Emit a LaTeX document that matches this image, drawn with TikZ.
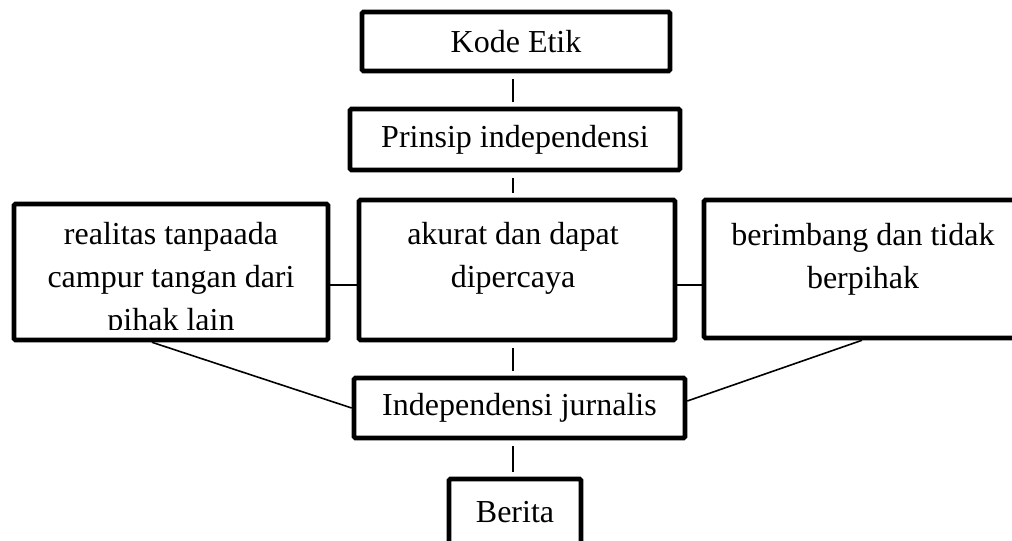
\documentclass[tikz,border=0pt]{standalone}
\usepackage{fontspec}
\setmainfont{Liberation Serif}
\usetikzlibrary{calc}
\begin{document}
\begin{tikzpicture}[x=0.75pt,y=-0.75pt,
  box/.style={draw, line width=3.4pt, rounded corners=1pt, inner sep=0pt},
  txt/.style={font=\fontsize{24}{32.25}\selectfont, inner sep=0pt, align=center},
  conn/.style={line width=1.2pt},
  gap/.style={conn, shorten <=4.5pt, shorten >=3.75pt}]
\useasboundingbox (0,0) rectangle (1012,540);
\coordinate (axis) at (513,0);
\coordinate (hline) at (0,285);

% boxes
\node[box, txt, minimum width=231pt, minimum height=44.25pt] (kode) at (516,41.5) {Kode Etik};
\node[box, txt, minimum width=247.5pt, minimum height=45.75pt] (prinsip) at (515,139.5) {Prinsip independensi};
\node[box, minimum width=235.5pt, minimum height=102pt] (left) at (171,272) {};
\node[box, minimum width=237pt, minimum height=105pt] (middle) at (517,270) {};
\node[box, minimum width=237pt, minimum height=103.5pt] (right) at (862,269) {};
\node[box, txt, minimum width=248.25pt, minimum height=45pt] (indep) at (519.5,408) {Independensi jurnalis};
\node[box, txt, minimum width=99pt, minimum height=49.5pt] (berita) at (515,512) {Berita};

% texts of the three-part row (base = baseline of the last line)
\begin{scope}
  \clip (14,204) rectangle (328,329);
  \node[txt, anchor=base] (lefttext) at (171,330) {realitas tanpaada\\campur tangan dari\\pihak lain};
\end{scope}
\node[txt, anchor=base] (midtext) at (513,287) {akurat dan dapat\\dipercaya};
\node[txt, anchor=base] (righttext) at (863,288) {berimbang dan tidak\\berpihak};

% connectors
\draw[gap] (kode.south -| axis) -- (prinsip.north -| axis);
\draw[gap] (prinsip.south -| axis) -- (middle.north -| axis);
\draw[gap] (middle.south -| axis) -- (indep.north -| axis);
\draw[gap] (indep.south -| axis) -- (berita.north -| axis);
\draw[conn] (left.east |- hline) -- (middle.west |- hline);
\draw[conn] (middle.east |- hline) -- (right.west |- hline);
\draw[conn] ($(left.south west)!0.44!(left.south east)$) -- (indep.west);
\draw[conn] (right.south) -- ($(indep.east)+(0,-7)$);
\end{tikzpicture}
\end{document}
